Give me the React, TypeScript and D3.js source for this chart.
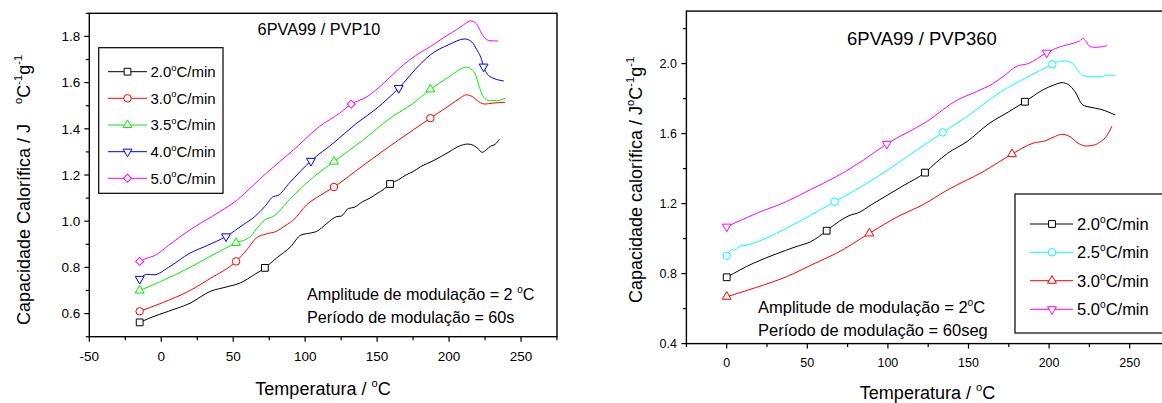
import React from 'react'
import * as d3 from 'd3'

// ---- 6PVA99 / PVP10 (left panel) : [temperature, heat capacity]
const pvp10Rate20 = [[-15, 0.562], [-8, 0.581], [5, 0.61], [20, 0.645], [34, 0.696], [45, 0.715], [55, 0.733], [65, 0.77], [72, 0.798], [80, 0.84], [90, 0.89], [97, 0.94], [103, 0.948], [108, 0.956], [115, 0.99], [122, 1.02], [125, 1.022], [130, 1.055], [134, 1.06], [140, 1.085], [145, 1.1], [150, 1.12], [155, 1.14], [159, 1.161], [165, 1.18], [170, 1.2], [175, 1.215], [180, 1.235], [190, 1.265], [200, 1.3], [207, 1.325], [213, 1.334], [217, 1.328], [220, 1.315], [223, 1.298], [226, 1.31], [229, 1.325], [232, 1.333], [235, 1.355]]
const pvp10Rate30 = [[-15, 0.61], [0, 0.645], [20, 0.7], [34, 0.752], [52, 0.826], [60, 0.88], [66, 0.927], [73, 0.945], [80, 0.956], [86, 0.98], [92, 1.006], [101, 1.071], [110, 1.11], [120, 1.148], [140, 1.24], [160, 1.33], [175, 1.395], [187, 1.446], [200, 1.5], [207, 1.53], [212, 1.547], [216, 1.54], [219, 1.525], [222, 1.512], [225, 1.507], [230, 1.511], [239, 1.515]]
const pvp10Rate35 = [[-15, 0.7], [-8, 0.718], [0, 0.74], [20, 0.8], [34, 0.848], [52, 0.906], [62, 0.934], [68, 0.98], [72, 1.006], [78, 1.021], [89, 1.093], [105, 1.187], [120, 1.258], [140, 1.35], [160, 1.45], [175, 1.51], [187, 1.571], [200, 1.625], [207, 1.655], [212, 1.667], [216, 1.655], [218, 1.641], [221, 1.583], [224, 1.537], [228, 1.522], [233, 1.522], [239, 1.533]]
const pvp10Rate40 = [[-15, 0.75], [-10, 0.77], [-5, 0.768], [5, 0.8], [20, 0.862], [32, 0.895], [45, 0.934], [57, 0.985], [65, 1.02], [72, 1.064], [78, 1.107], [81, 1.111], [89, 1.165], [104, 1.261], [120, 1.34], [135, 1.42], [150, 1.49], [165, 1.576], [180, 1.68], [187, 1.72], [200, 1.765], [211, 1.789], [216, 1.775], [219, 1.745], [222, 1.71], [224, 1.669], [228, 1.628], [238, 1.607]]
const pvp10Rate50 = [[-15, 0.826], [-10, 0.84], [-5, 0.85], [5, 0.895], [20, 0.963], [35, 1.02], [53, 1.093], [63, 1.15], [73, 1.208], [92, 1.309], [110, 1.41], [124, 1.468], [132, 1.507], [143, 1.539], [155, 1.6], [166, 1.665], [180, 1.73], [187, 1.756], [198, 1.802], [205, 1.828], [210, 1.85], [215, 1.867], [219, 1.855], [222, 1.82], [224, 1.799], [228, 1.782], [234, 1.78]]

const pvp10Marks20 = [-15, 72, 159]
const pvp10Marks30 = [-15, 52, 120, 187]
const pvp10Marks35 = [-15, 52, 120, 187]
const pvp10Marks40 = [-15, 45, 104, 165, 224]
const pvp10Marks50 = [-15, 132]

// ---- 6PVA99 / PVP360 (right panel)
const pvp360Rate20 = [[0, 0.779], [16.5, 0.859], [30, 0.91], [43, 0.954], [52, 0.982], [57, 1.01], [62, 1.045], [70, 1.1], [77, 1.135], [81, 1.145], [90, 1.195], [100, 1.25], [110, 1.305], [123, 1.377], [130, 1.435], [137, 1.487], [149, 1.554], [163, 1.659], [175, 1.725], [185, 1.782], [196, 1.849], [203, 1.878], [208, 1.891], [212, 1.88], [216, 1.84], [221, 1.763], [226, 1.75], [232, 1.739], [241, 1.706]]
const pvp360Rate25 = [[0, 0.902], [2, 0.93], [3.5, 0.939], [5, 0.935], [6.5, 0.945], [9, 0.959], [12, 0.962], [25, 1.005], [37, 1.059], [52, 1.133], [67, 1.211], [87, 1.316], [112, 1.468], [134, 1.607], [149, 1.697], [170, 1.839], [186, 1.92], [202, 1.996], [206, 2.013], [210, 2.015], [214, 2.005], [218, 1.96], [221, 1.933], [226, 1.925], [232, 1.925], [236, 1.935], [241, 1.932]]
const pvp360Rate30 = [[0, 0.668], [18, 0.72], [37, 0.782], [55, 0.86], [68, 0.916], [88.5, 1.03], [107, 1.13], [120, 1.185], [137, 1.278], [159, 1.382], [177, 1.483], [190, 1.545], [198, 1.56], [204, 1.585], [208, 1.596], [213, 1.582], [218, 1.545], [223, 1.529], [228, 1.535], [232, 1.554], [236, 1.59], [239, 1.643]]
const pvp360Rate50 = [[0, 1.068], [20, 1.15], [37, 1.211], [52, 1.28], [68, 1.354], [85, 1.45], [99.3, 1.541], [124, 1.668], [143, 1.792], [155, 1.84], [165, 1.885], [172, 1.93], [180, 1.985], [187, 2.0], [198.5, 2.062], [207, 2.097], [215, 2.116], [219, 2.13], [221, 2.145], [223, 2.125], [225.5, 2.097], [228.5, 2.093], [236, 2.102]]

const pvp360Marks20 = [0, 62, 123, 185]
const pvp360Marks25 = [0, 67, 134, 202]
const pvp360Marks30 = [0, 88.5, 177]
const pvp360Marks50 = [0, 99.3, 198.5]

// ticks
const leftXMajor = [-50, 0, 50, 100, 150, 200, 250]
const leftXMinor = [-25, 25, 75, 125, 175, 225, 275]
const leftYMajor = [0.6, 0.8, 1.0, 1.2, 1.4, 1.6, 1.8]
const leftYMinor = [0.5, 0.7, 0.9, 1.1, 1.3, 1.5, 1.7, 1.9]
const rightXMajor = [0, 50, 100, 150, 200, 250]
const rightXMinor = [-25, 25, 75, 125, 175, 225, 275]
const rightYMajor = [0.4, 0.8, 1.2, 1.6, 2.0]
const rightYMinor = [0.6, 1.0, 1.4, 1.8, 2.2]

const FONT = '"Liberation Sans", Arial, Helvetica, sans-serif'

const symbols = {
  square: { type: d3.symbolSquare, size: 46, rotate: 0 },
  circle: { type: d3.symbolCircle, size: 44, rotate: 0 },
  up: { type: d3.symbolTriangle, size: 34, rotate: 0 },
  down: { type: d3.symbolTriangle, size: 34, rotate: 180 },
  diamond: { type: d3.symbolSquare, size: 32, rotate: 45 }
}

const leftSeries = [
  { rate: '2.0', color: '#000000', shape: 'square', points: pvp10Rate20, marks: pvp10Marks20 },
  { rate: '3.0', color: '#ff0000', shape: 'circle', points: pvp10Rate30, marks: pvp10Marks30 },
  { rate: '3.5', color: '#00ee00', shape: 'up', points: pvp10Rate35, marks: pvp10Marks35 },
  { rate: '4.0', color: '#0000ff', shape: 'down', points: pvp10Rate40, marks: pvp10Marks40 },
  { rate: '5.0', color: '#ff00ff', shape: 'diamond', points: pvp10Rate50, marks: pvp10Marks50 }
]

const rightSeries = [
  { rate: '2.0', color: '#000000', shape: 'square', points: pvp360Rate20, marks: pvp360Marks20 },
  { rate: '2.5', color: '#00ffff', shape: 'circle', points: pvp360Rate25, marks: pvp360Marks25 },
  { rate: '3.0', color: '#ff0000', shape: 'up', points: pvp360Rate30, marks: pvp360Marks30 },
  { rate: '5.0', color: '#ff00ff', shape: 'down', points: pvp360Rate50, marks: pvp360Marks50 }
]

// text with superscripts: parts = [{t, sup?, dx?}]
function Rich ({ parts, size, ...rest }) {
  let shift = 0
  return (
    <text fontSize={size} fontFamily={FONT} fill='#000' {...rest}>
      {parts.map((p, i) => {
        const target = p.sup ? -size * 0.42 : 0
        const dy = target - shift
        shift = target
        return (
          <tspan key={i} dy={dy} dx={p.dx || 0} fontSize={p.sup ? size * 0.62 : size}>{p.t}</tspan>
        )
      })}
    </text>
  )
}

function Marker ({ shape, x, y, color }) {
  const s = symbols[shape]
  const d = d3.symbol().type(s.type).size(s.size)()
  return <path d={d} transform={`translate(${x},${y}) rotate(${s.rotate})`} fill='#fff' stroke={color} strokeWidth={1} />
}

function Panel (props) {
  const { xDomain, xRange, yDomain, yRange, series, xMajor, xMinor, yMajor, yMinor, tickSize, yFmt } = props
  const x = d3.scaleLinear().domain(xDomain).range(xRange)
  const y = d3.scaleLinear().domain(yDomain).range(yRange)
  const line = d3.line().x((d) => x(d[0])).y((d) => y(d[1])).curve(d3.curveMonotoneX)
  const [x0, x1] = xRange
  const [y0, y1] = yRange

  return (
    <g>
      {series.map((s) => (
        <g key={s.rate + s.color}>
          <path d={line(s.points)} fill='none' stroke={s.color} strokeWidth={1} />
          {s.marks.map((m) => {
            const p = s.points.find((d) => d[0] === m)
            return <Marker key={m} shape={s.shape} x={x(p[0])} y={y(p[1])} color={s.color} />
          })}
        </g>
      ))}
      <rect x={x0} y={y1} width={x1 - x0} height={y0 - y1} fill='none' stroke='#000' strokeWidth={1.4} />
      {xMajor.map((v) => (
        <g key={'xM' + v}>
          <line x1={x(v)} x2={x(v)} y1={y0} y2={y0 + 5} stroke='#000' strokeWidth={1.2} />
          <text x={x(v)} y={y0 + tickSize.xOff} textAnchor='middle' fontSize={tickSize.font} fontFamily={FONT}>{v}</text>
        </g>
      ))}
      {xMinor.map((v) => (
        <line key={'xm' + v} x1={x(v)} x2={x(v)} y1={y0} y2={y0 + 3.5} stroke='#000' strokeWidth={1.2} />
      ))}
      {yMajor.map((v) => (
        <g key={'yM' + v}>
          <line x1={x0 - 5} x2={x0} y1={y(v)} y2={y(v)} stroke='#000' strokeWidth={1.2} />
          <text x={x0 - tickSize.yOff} y={y(v)} dy='0.36em' textAnchor='end' fontSize={tickSize.font} fontFamily={FONT}>{yFmt(v)}</text>
        </g>
      ))}
      {yMinor.map((v) => (
        <line key={'ym' + v} x1={x0 - 3.5} x2={x0} y1={y(v)} y2={y(v)} stroke='#000' strokeWidth={1.2} />
      ))}
    </g>
  )
}

function Legend ({ series, box, rows, lineX, markX, textX, size }) {
  return (
    <g>
      <rect x={box[0]} y={box[1]} width={box[2]} height={box[3]} fill='#fff' stroke='#000' strokeWidth={1.2} />
      {series.map((s, i) => (
        <g key={s.rate + s.color}>
          <line x1={lineX[0]} x2={lineX[1]} y1={rows[i]} y2={rows[i]} stroke={s.color} strokeWidth={1} />
          <Marker shape={s.shape} x={markX} y={rows[i]} color={s.color} />
          <Rich x={textX} y={rows[i] + size * 0.36} size={size}
            parts={[{ t: s.rate }, { t: 'o', sup: true }, { t: 'C/min' }]} />
        </g>
      ))}
    </g>
  )
}

export default function App () {
  const fmt = d3.format('.1f')
  return (
    <svg width={1162} height={403} style={{ position: 'absolute', left: 0, top: 0, background: '#fff' }}>
      <rect x={0} y={0} width={1162} height={403} fill='#fff' />

      {/* left panel */}
      <Panel xDomain={[-50, 275]} xRange={[89.3, 557]} yDomain={[0.5, 1.9]} yRange={[336.7, 13.3]}
        series={leftSeries} xMajor={leftXMajor} xMinor={leftXMinor} yMajor={leftYMajor} yMinor={leftYMinor}
        tickSize={{ font: 13.5, xOff: 24.5, yOff: 9 }} yFmt={fmt} />
      <Legend series={leftSeries} box={[98.7, 47.7, 124.3, 145.6]} rows={[71.7, 98.3, 125, 151.7, 178.3]}
        lineX={[108, 147]} markX={127.5} textX={150.5} size={15} />
      <text x={319} y={35} textAnchor='middle' fontSize={16.3} fontFamily={FONT}>6PVA99 / PVP10</text>
      <Rich x={307} y={300} size={16.2} parts={[{ t: 'Amplitude de modulação = 2 ' }, { t: 'o', sup: true }, { t: 'C' }]} />
      <Rich x={307} y={323} size={16.2} parts={[{ t: 'Período de modulação = 60s' }]} />
      <Rich x={323} y={395} size={18} textAnchor='middle' parts={[{ t: 'Temperatura / ' }, { t: 'o', sup: true }, { t: 'C' }]} />
      <Rich transform='translate(30,325) rotate(-90)' x={0} y={0} size={18}
        parts={[{ t: 'Capacidade Calorífica / J' }, { t: 'o', sup: true, dx: 20 }, { t: 'C' }, { t: '-1', sup: true }, { t: 'g' }, { t: '-1', sup: true }]} />

      {/* right panel */}
      <Panel xDomain={[-25, 275]} xRange={[686.4, 1170]} yDomain={[0.4, 2.3]} yRange={[343.6, 11.1]}
        series={rightSeries} xMajor={rightXMajor} xMinor={rightXMinor} yMajor={rightYMajor} yMinor={rightYMinor}
        tickSize={{ font: 12.5, xOff: 23, yOff: 9.5 }} yFmt={fmt} />
      <Legend series={rightSeries} box={[1015, 194, 170, 139]} rows={[224, 252.3, 280.7, 309.3]}
        lineX={[1030, 1073]} markX={1052} textX={1077} size={16.5} />
      <text x={922} y={45} textAnchor='middle' fontSize={18.5} fontFamily={FONT}>6PVA99 / PVP360</text>
      <Rich x={758} y={313} size={16.5} parts={[{ t: 'Amplitude de modulação = 2' }, { t: 'o', sup: true }, { t: 'C' }]} />
      <Rich x={758} y={336} size={16.5} parts={[{ t: 'Período de modulação = 60seg' }]} />
      <Rich x={927.5} y={399} size={18} textAnchor='middle' parts={[{ t: 'Temperatura / ' }, { t: 'o', sup: true }, { t: 'C' }]} />
      <Rich transform='translate(642,303) rotate(-90)' x={0} y={0} size={18}
        parts={[{ t: 'Capacidade calorífica / J' }, { t: 'o', sup: true }, { t: 'C' }, { t: '-1', sup: true }, { t: 'g' }, { t: '-1', sup: true }]} />
    </svg>
  )
}
